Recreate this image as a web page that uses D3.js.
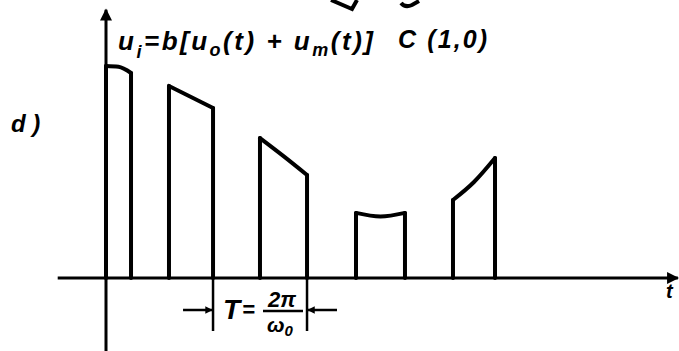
<html>
<script src="https://d3js.org/d3.v7.min.js"></script>
<style>
  body { margin: 0; background: #fff; }
  text { font-family: "Liberation Sans", Arial, sans-serif; font-weight: bold; font-style: italic; fill: #000; }
</style>
<body>
<svg id="plot" width="679" height="351"></svg>
<script>
// pulse train, time in units of T, amplitude relative to first pulse
var pulseStart = [0, 0.652, 1.594, 2.588, 3.592];
var pulseEnd   = [0.259, 1.108, 2.081, 3.095, 4.027];
var ampStart   = [1.0, 0.906, 0.660, 0.307, 0.368];
var ampMid     = [0.996, 0.854, 0.575, 0.290, 0.453];
var ampEnd     = [0.967, 0.802, 0.486, 0.307, 0.566];
var periodMarks = [1.108, 2.081];
var tRange = [-0.5, 5.92];
var aRange = [-0.35, 1.265];

var svg = d3.select("#plot");
var x = d3.scaleLinear().domain([0, 1]).range([106, 202.6]);
var y = d3.scaleLinear().domain([0, 1]).range([278, 66]);

var defs = svg.append("defs");
defs.append("marker").attr("id", "arr").attr("viewBox", "0 0 10 10")
  .attr("refX", 9).attr("refY", 5).attr("markerWidth", 5).attr("markerHeight", 4)
  .attr("orient", "auto").attr("markerUnits", "strokeWidth")
  .append("path").attr("d", "M0,0 L10,5 L0,10 Z").attr("fill", "#000");
defs.append("marker").attr("id", "arrs").attr("viewBox", "0 0 10 10")
  .attr("refX", 9).attr("refY", 5).attr("markerWidth", 4).attr("markerHeight", 3)
  .attr("orient", "auto").attr("markerUnits", "strokeWidth")
  .append("path").attr("d", "M0,0 L10,5 L0,10 Z").attr("fill", "#000");

// axes
svg.append("line").attr("x1", x(tRange[0])).attr("x2", x(tRange[1]))
  .attr("y1", y(0)).attr("y2", y(0))
  .attr("stroke", "#000").attr("stroke-width", 3).attr("marker-end", "url(#arr)");
svg.append("line").attr("x1", x(0)).attr("x2", x(0))
  .attr("y1", y(aRange[0])).attr("y2", y(aRange[1]))
  .attr("stroke", "#000").attr("stroke-width", 3).attr("marker-end", "url(#arr)");

// pulses
var tops = d3.line().x(function(d) { return x(d[0]); }).y(function(d) { return y(d[1]); })
  .curve(d3.curveMonotoneX);
var g = svg.append("g").attr("fill", "none").attr("stroke", "#000")
  .attr("stroke-width", 4).attr("stroke-linecap", "round").attr("stroke-linejoin", "round");
pulseStart.forEach(function(s, i) {
  var e = pulseEnd[i], m = (s + e) / 2;
  g.append("line").attr("x1", x(s)).attr("x2", x(s)).attr("y1", y(0)).attr("y2", y(ampStart[i]));
  g.append("line").attr("x1", x(e)).attr("x2", x(e)).attr("y1", y(0)).attr("y2", y(ampEnd[i]));
  g.append("path").attr("d", tops([[s, ampStart[i]], [m, ampMid[i]], [e, ampEnd[i]]]));
});

// period marker
var my = 310;
periodMarks.forEach(function(t) {
  svg.append("line").attr("x1", x(t)).attr("x2", x(t)).attr("y1", y(0)).attr("y2", 331)
    .attr("stroke", "#000").attr("stroke-width", 2.5);
});
svg.append("line").attr("x1", x(periodMarks[0]) - 30).attr("x2", x(periodMarks[0]) - 1)
  .attr("y1", my).attr("y2", my).attr("stroke", "#000").attr("stroke-width", 2.5)
  .attr("marker-end", "url(#arrs)");
svg.append("line").attr("x1", x(periodMarks[1]) + 30).attr("x2", x(periodMarks[1]) + 1)
  .attr("y1", my).attr("y2", my).attr("stroke", "#000").attr("stroke-width", 2.5)
  .attr("marker-end", "url(#arrs)");
svg.append("text").attr("x", 223).attr("y", 319).attr("font-size", 28).text("T");
svg.append("text").attr("x", 242).attr("y", 317).attr("font-size", 22).text("=");
svg.append("text").attr("x", 282).attr("y", 307).attr("text-anchor", "middle").attr("font-size", 22).text("2π");
svg.append("line").attr("x1", 263).attr("x2", 303).attr("y1", 311).attr("y2", 311)
  .attr("stroke", "#000").attr("stroke-width", 2.5);
var w = svg.append("text").attr("x", 280).attr("y", 332).attr("text-anchor", "middle").attr("font-size", 21);
w.append("tspan").text("ω");
w.append("tspan").attr("font-size", 15).attr("dy", 4).text("0");

// labels
var ti = svg.append("text").attr("x", 118).attr("y", 50).attr("font-size", 26)
  .attr("textLength", 255).attr("lengthAdjust", "spacing");
ti.append("tspan").text("u");
ti.append("tspan").attr("font-size", 18).attr("dy", 8).text("i");
ti.append("tspan").attr("dy", -8).text("=b[u");
ti.append("tspan").attr("font-size", 18).attr("dy", 6).text("o");
ti.append("tspan").attr("dy", -6).text("(t) + u");
ti.append("tspan").attr("font-size", 18).attr("dy", 6).text("m");
ti.append("tspan").attr("dy", -6).text("(t)]");
svg.append("text").attr("x", 398).attr("y", 48).attr("font-size", 25)
  .attr("textLength", 89).attr("lengthAdjust", "spacing").text("C (1,0)");
svg.append("text").attr("x", 11).attr("y", 132).attr("font-size", 24).text("d )");
svg.append("text").attr("x", 666).attr("y", 298).attr("font-size", 20).text("t");

// fragments of the figure above
svg.append("path").attr("d", "M331,0 Q345,6 352,9 L357,0").attr("fill", "none")
  .attr("stroke", "#000").attr("stroke-width", 4);
svg.append("path").attr("d", "M401,3 Q405,8 412,5 L419,1").attr("fill", "none")
  .attr("stroke", "#000").attr("stroke-width", 4);
</script>
</body>
</html>
